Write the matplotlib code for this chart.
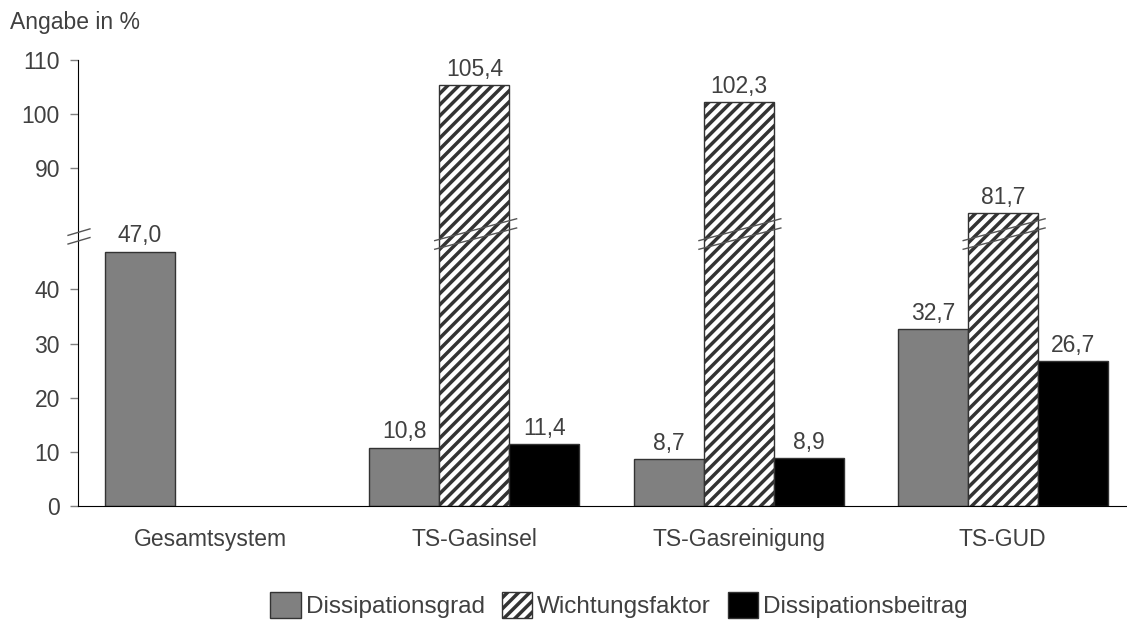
import matplotlib
matplotlib.use("Agg")
import matplotlib.pyplot as plt
import numpy as np
from matplotlib.patches import Patch

plt.rcParams["font.family"] = ["Liberation Sans", "DejaVu Sans"]
plt.rcParams["hatch.linewidth"] = 2.5
plt.rcParams["hatch.color"] = "black"

categories = ["Gesamtsystem", "TS-Gasinsel", "TS-Gasreinigung", "TS-GUD"]
series_names = ["Dissipationsgrad", "Wichtungsfaktor", "Dissipationsbeitrag"]
dissipationsgrad = [47.0, 10.8, 8.7, 32.7]
wichtungsfaktor = [None, 105.4, 102.3, 81.7]
dissipationsbeitrag = [None, 11.4, 8.9, 26.7]
lower_ticks = [0, 10, 20, 30, 40]
upper_ticks = [90, 100, 110]

# broken axis: values above the break are shifted down by a fixed amount
BREAK_AT = 50.0
SHIFT = 27.6


def to_axis(v):
    return v if v <= BREAK_AT else v - SHIFT


text_color = "#404040"
FS = 16.5
fig = plt.figure(figsize=(11.27, 6.2), dpi=100)
ax = fig.add_axes([78 / 1127, 1 - 506 / 620, 1 - 78 / 1127, (506 - 60) / 620])

x = np.arange(len(categories))
w = 0.265
styles = [
    dict(facecolor="#808080", edgecolor="#333333", hatch=None),
    dict(facecolor="white", edgecolor="#333333", hatch="///"),
    dict(facecolor="black", edgecolor="#333333", hatch=None),
]
all_series = [dissipationsgrad, wichtungsfaktor, dissipationsbeitrag]

for k, (vals, st) in enumerate(zip(all_series, styles)):
    for i, v in enumerate(vals):
        if v is None:
            continue
        xi = x[i] + (k - 1) * w
        h = to_axis(v)
        ax.bar(xi, h, width=w, facecolor=st["facecolor"], edgecolor=st["edgecolor"],
               hatch=st["hatch"], linewidth=1.0, zorder=2)
        ax.annotate(f"{v:.1f}".replace(".", ","), (xi, h), xytext=(0, 3),
                    textcoords="offset points", ha="center", va="bottom",
                    fontsize=FS, color=text_color)
        if v > BREAK_AT:
            # break marks across the shifted bar
            for y0, y1 in [(49.0, 53.1), (47.4, 51.4)]:
                ax.plot([xi - w / 2 - 0.02, xi + w / 2 + 0.03], [y0, y1],
                        color="#555555", lw=1.0, zorder=3, solid_capstyle="butt")

# break marks on the y axis
ytr = ax.get_yaxis_transform()
for y0, y1 in [(50.0, 51.2), (48.4, 49.6)]:
    ax.plot([-0.0095, 0.0114], [y0, y1], transform=ytr, color="#555555",
            lw=1.0, clip_on=False, zorder=3)

ax.set_xlim(-0.5, 3.47)
ax.set_ylim(0, to_axis(110))
tick_vals = lower_ticks + upper_ticks
ax.set_yticks([to_axis(t) for t in tick_vals])
ax.set_yticklabels([str(t) for t in tick_vals])
ax.set_xticks(x)
ax.set_xticklabels(categories)

ax.tick_params(axis="y", direction="out", length=6, width=1, color="#808080",
               labelsize=FS, labelcolor=text_color, pad=7)
ax.tick_params(axis="x", length=0, labelsize=FS, labelcolor=text_color, pad=16)

for s in ["top", "right"]:
    ax.spines[s].set_visible(False)
ax.spines["left"].set_color("black")
ax.spines["bottom"].set_color("black")

fig.text(10 / 1127, 1 - 22 / 620, "Angabe in %", fontsize=FS, color=text_color,
         ha="left", va="center")

handles = [Patch(facecolor=st["facecolor"], edgecolor="#333333", hatch=st["hatch"])
           for st in styles]
fig.legend(handles, series_names, loc="center", bbox_to_anchor=(619 / 1127, 1 - 605 / 620),
           ncol=3, frameon=False, fontsize=17.5, handlelength=1.25, handleheight=1.25,
           handletextpad=0.2, columnspacing=0.7, labelcolor=text_color)

fig.savefig("out.png", dpi=100)
